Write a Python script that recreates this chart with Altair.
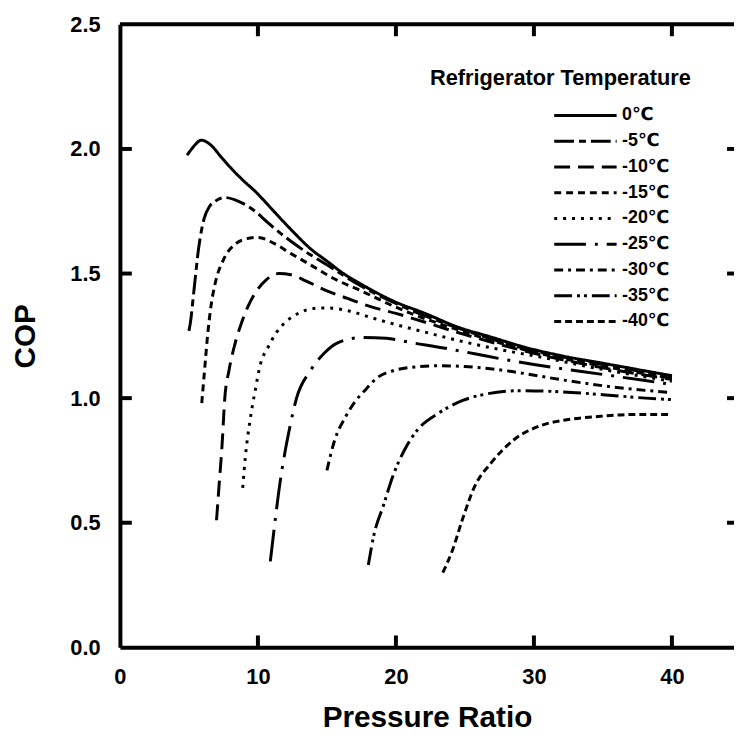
import altair as alt
import pandas as pd

# ---------------- data ----------------
labels = ["0℃", "-5℃", "-10℃", "-15℃", "-20℃", "-25℃", "-30℃", "-35℃", "-40℃"]
legend_title = "Refrigerator Temperature"
x_ticks = [0, 10, 20, 30, 40]
y_ticks = [0.0, 0.5, 1.0, 1.5, 2.0, 2.5]

x_0 = [4.86, 5.2, 5.5, 5.9, 6.6, 7.3, 8.1, 9.0, 9.8, 10.9, 11.4, 12.6, 13.8, 15.0, 16.2, 17.4, 19.8, 22.1, 24.5, 26.9, 29.3, 32.0, 35.0, 38.0, 40.0]
y_0 = [1.975, 2.00, 2.02, 2.035, 2.015, 1.97, 1.92, 1.87, 1.83, 1.765, 1.735, 1.665, 1.60, 1.55, 1.50, 1.46, 1.39, 1.34, 1.285, 1.245, 1.205, 1.17, 1.14, 1.11, 1.09]

x_5 = [5.0, 5.1, 5.36, 5.7, 6.1, 6.5, 6.9, 7.6, 8.6, 9.8, 10.7, 11.9, 13.4, 15.0, 17.0, 20.0, 25.0, 30.0, 35.0, 40.0]
y_5 = [1.27, 1.30, 1.43, 1.60, 1.72, 1.77, 1.79, 1.805, 1.79, 1.75, 1.705, 1.65, 1.59, 1.535, 1.465, 1.38, 1.272, 1.19, 1.135, 1.085]

# long-dash curve
x_10 = [7.0, 7.2, 7.4, 7.6, 7.9, 8.3, 8.8, 9.3, 9.9, 10.6, 11.5, 12.4, 13.5, 15.0, 16.5, 18.0, 20.0, 25.0, 30.0, 35.0, 40.0]
y_10 = [0.51, 0.66, 0.81, 1.0, 1.11, 1.21, 1.30, 1.37, 1.43, 1.475, 1.50, 1.495, 1.47, 1.43, 1.40, 1.37, 1.34, 1.255, 1.18, 1.122, 1.075]

# short-dash curve
x_15 = [5.93, 6.1, 6.35, 6.6, 6.9, 7.5, 8.4, 9.2, 10.0, 11.2, 12.4, 13.8, 15.5, 17.5, 20.0, 25.0, 30.0, 35.0, 40.0]
y_15 = [0.98, 1.09, 1.25, 1.37, 1.46, 1.555, 1.62, 1.64, 1.645, 1.62, 1.58, 1.535, 1.48, 1.43, 1.365, 1.265, 1.185, 1.128, 1.08]

x_20 = [8.9, 9.1, 9.4, 9.8, 10.2, 10.7, 11.3, 12.1, 13.1, 14.0, 15.0, 16.6, 18.1, 20.0, 22.1, 25.0, 28.0, 30.0, 35.0, 40.0]
y_20 = [0.64, 0.77, 0.90, 1.03, 1.14, 1.20, 1.26, 1.31, 1.345, 1.36, 1.362, 1.35, 1.325, 1.295, 1.265, 1.225, 1.19, 1.17, 1.115, 1.068]

x_25 = [10.9, 11.1, 11.6, 12.3, 12.8, 13.8, 14.8, 15.7, 17.5, 19.3, 21.2, 23.6, 25.7, 28.1, 30.0, 35.0, 40.0]
y_25 = [0.345, 0.44, 0.66, 0.88, 1.0, 1.11, 1.18, 1.22, 1.243, 1.24, 1.222, 1.20, 1.178, 1.153, 1.135, 1.095, 1.055]

x_30 = [15.0, 15.5, 16.4, 17.1, 17.9, 18.6, 19.8, 21.4, 23.0, 25.0, 27.0, 28.6, 32.1, 35.7, 40.0]
y_30 = [0.71, 0.82, 0.93, 0.99, 1.04, 1.08, 1.11, 1.125, 1.13, 1.127, 1.117, 1.105, 1.073, 1.045, 1.022]

x_35 = [18.0, 18.4, 19.1, 19.8, 20.7, 21.6, 23.1, 24.8, 26.4, 29.1, 32.1, 35.2, 38.1, 40.0]
y_35 = [0.33, 0.45, 0.57, 0.69, 0.80, 0.875, 0.94, 0.99, 1.015, 1.03, 1.025, 1.013, 1.0, 0.994]

x_40 = [23.4, 24.1, 24.8, 25.7, 26.9, 28.6, 30.5, 32.6, 34.8, 36.9, 40.0]
y_40 = [0.30, 0.39, 0.51, 0.645, 0.74, 0.835, 0.89, 0.915, 0.927, 0.934, 0.934]

series = {
    "0℃": (x_0, y_0),
    "-5℃": (x_5, y_5),
    "-10℃": (x_10, y_10),
    "-15℃": (x_15, y_15),
    "-20℃": (x_20, y_20),
    "-25℃": (x_25, y_25),
    "-30℃": (x_30, y_30),
    "-35℃": (x_35, y_35),
    "-40℃": (x_40, y_40),
}

rows = []
for lab, (xs, ys) in series.items():
    for xv, yv in zip(xs, ys):
        rows.append({"temp": lab, "pr": xv, "cop": yv})
df = pd.DataFrame(rows)

# ---------------- styling ----------------
dashes = [[1, 0], [20, 5, 7, 5], [16, 8], [7, 5], [3, 6], [32, 9, 3, 9], [9, 5, 3, 5], [18, 5, 3, 4, 3, 5], [7, 4]]
FONT = "Liberation Sans, Arial, DejaVu Sans, sans-serif"
XMAX = 44.5
YMAX = 2.5
W, H = 620, 629
TICK_LEN = 12.0     # px
TICK_W = 4.0        # px
PXX = XMAX / W      # x data units per pixel
PXY = YMAX / H      # y data units per pixel

x_scale = alt.Scale(domain=[0, XMAX], nice=False, zero=False)
y_scale = alt.Scale(domain=[0, YMAX], nice=False)

lines = alt.Chart(df).mark_line(
    strokeWidth=3, color="black", interpolate="monotone", clip=True
).encode(
    x=alt.X("pr:Q", scale=x_scale,
            axis=alt.Axis(values=x_ticks, title="Pressure Ratio", labelPadding=20,
                          titlePadding=15, labelFlush=False, labelOverlap=False)),
    y=alt.Y("cop:Q", scale=y_scale,
            axis=alt.Axis(values=y_ticks, format=".1f", title="COP", labelPadding=20,
                          titlePadding=30, labelOverlap=False)),
    strokeDash=alt.StrokeDash(
        "temp:N",
        scale=alt.Scale(domain=labels, range=dashes),
        legend=alt.Legend(
            title=None, orient="none", legendX=458, legendY=80,
            symbolType="M-3,0H3", symbolSize=441, symbolStrokeWidth=3,
            symbolStrokeColor="black", labelFont=FONT, labelFontSize=18,
            labelFontWeight="bold", labelColor="black", labelOffset=25,
            rowPadding=5, padding=0,
        ),
    ),
)

# inward tick marks drawn as thin filled rectangles, built from the tick lists
hx = 0.5 * TICK_W * PXX
hy = 0.5 * TICK_W * PXY
tick_rows = []
for v in x_ticks[1:]:
    tick_rows.append({"xa": v - hx, "xb": v + hx, "ya": 0.0, "yb": TICK_LEN * PXY})
    tick_rows.append({"xa": v - hx, "xb": v + hx, "ya": YMAX - TICK_LEN * PXY, "yb": YMAX})
for v in y_ticks[1:-1]:
    tick_rows.append({"xa": 0.0, "xb": TICK_LEN * PXX, "ya": v - hy, "yb": v + hy})
    tick_rows.append({"xa": XMAX - 7 * PXX, "xb": XMAX, "ya": v - hy, "yb": v + hy})
ticks_df = pd.DataFrame(tick_rows)

ticks = alt.Chart(ticks_df).mark_rect(color="black", opacity=1).encode(
    x=alt.X("xa:Q", scale=x_scale), x2=alt.X2("xb"),
    y=alt.Y("ya:Q", scale=y_scale), y2=alt.Y2("yb"),
)

top_df = pd.DataFrame({"v": [YMAX]})
top_rule = alt.Chart(top_df).mark_rule(strokeWidth=4, color="black").encode(
    y=alt.Y("v:Q", scale=y_scale)
)

title_text = alt.Chart(pd.DataFrame({"t": [legend_title]})).mark_text(
    align="left", baseline="middle", font=FONT, fontSize=22, fontWeight="bold", color="black"
).encode(x=alt.value(313), y=alt.value(54), text="t:N")

chart = alt.layer(
    lines, top_rule, title_text, ticks
).properties(
    width=W, height=H,
    autosize=alt.AutoSizeParams(type="none"),
    padding={"left": 113, "top": 13, "right": 0, "bottom": 85},
).configure_view(stroke=None).configure_axis(
    domainColor="black", domainWidth=4, ticks=False, grid=False,
    labelFont=FONT, labelFontWeight="bold", labelFontSize=22, labelColor="black",
    titleFont=FONT, titleFontWeight="bold", titleFontSize=30, titleColor="black",
)

chart.save("out.html", embed_options={"renderer": "svg", "actions": False})
